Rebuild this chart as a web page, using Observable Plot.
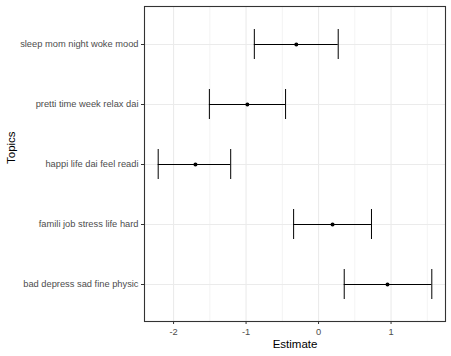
<!DOCTYPE html>
<html>
<head>
<meta charset="utf-8">
<script src="https://cdn.jsdelivr.net/npm/d3@7"></script>
<script src="https://cdn.jsdelivr.net/npm/@observablehq/plot@0.6"></script>
<style>
  html, body { margin: 0; padding: 0; background: #fff; }
  svg { display: block; }
</style>
</head>
<body>
<div id="chart"></div>
<script>
const topics = ["sleep mom night woke mood", "pretti time week relax dai", "happi life dai feel readi", "famili job stress life hard", "bad depress sad fine physic"];
const estimates = [-0.307, -0.982, -1.698, 0.193, 0.951];
const lower = [-0.886, -1.506, -2.212, -0.344, 0.354];
const upper = [0.271, -0.455, -1.212, 0.730, 1.562];
const xTicks = [-2, -1, 0, 1];
const xMinor = [-1.5, -0.5, 0.5, 1.5];

const data = topics.map((t, i) => ({topic: t, est: estimates[i], lo: lower[i], hi: upper[i]}));

const font = "Liberation Sans, Arial, sans-serif";
const grid = "#ebebeb";

const chart = Plot.plot({
  width: 451,
  height: 356,
  marginLeft: 144,
  marginRight: 6,
  marginTop: 6,
  marginBottom: 35,
  style: {fontFamily: font, background: "#fff"},
  x: {domain: [-2.401, 1.751]},
  y: {type: "band", domain: topics, paddingInner: 0.5, paddingOuter: 0.35},
  marks: [
    Plot.ruleX(xMinor, {stroke: grid, strokeWidth: 0.6}),
    Plot.ruleX(xTicks, {stroke: grid, strokeWidth: 1.1}),
    Plot.ruleY(data, {y: "topic", stroke: grid, strokeWidth: 1.1}),
    Plot.ruleY(data, {y: "topic", x1: "lo", x2: "hi", stroke: "#000", strokeWidth: 1}),
    Plot.tickX(data, {y: "topic", x: "lo", stroke: "#000", strokeWidth: 1}),
    Plot.tickX(data, {y: "topic", x: "hi", stroke: "#000", strokeWidth: 1}),
    Plot.dot(data, {y: "topic", x: "est", r: 2, fill: "#000", stroke: "none"}),
    Plot.frame({stroke: "#333", strokeWidth: 1.1}),
    Plot.axisX({ticks: xTicks, tickFormat: d => String(d), tickSize: 3, tickPadding: 4, stroke: "#333", fill: "#4d4d4d", fontSize: 9.3, label: null}),
    Plot.axisY({tickSize: 3, tickPadding: 3, stroke: "#333", fill: "#4d4d4d", fontSize: 9.3, label: null}),
    Plot.text(["Estimate"], {frameAnchor: "bottom", dy: 23, text: d => d, fontSize: 11.5, fill: "#000", lineAnchor: "middle"}),
    Plot.text(["Topics"], {frameAnchor: "left", dx: -133, rotate: -90, text: d => d, fontSize: 11.5, fill: "#000"})
  ]
});
document.getElementById("chart").appendChild(chart);
</script>
</body>
</html>
